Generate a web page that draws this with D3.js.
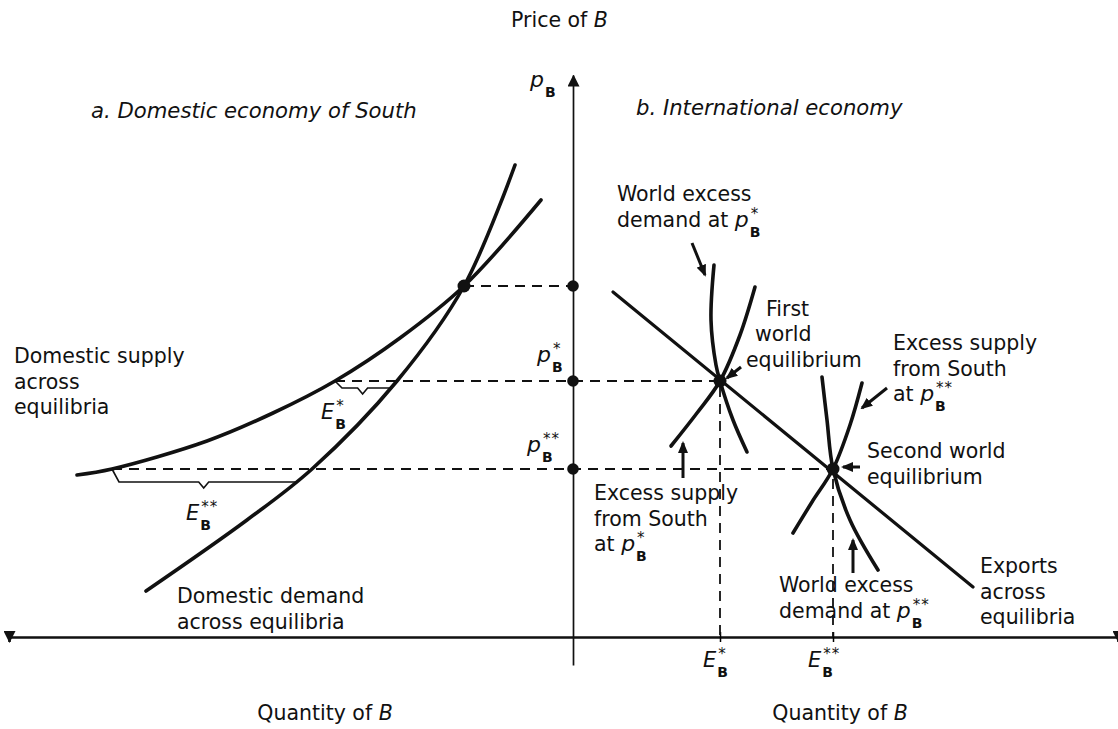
<!DOCTYPE html>
<html>
<head>
<meta charset="utf-8">
<script src="https://cdn.jsdelivr.net/npm/d3@7"></script>
<style>
  body { margin: 0; background: #fff; }
  svg { display: block; }
  text { font-family: "DejaVu Sans", sans-serif; fill: #111; }
</style>
</head>
<body>
<div class="canvas"></div>
<script>
// price levels: top domestic equilibrium, p*, p**
const priceLevels = [35.1, 25.6, 16.8];
// export quantities E*, E**
const exportLevels = [14.7, 26.0];

// panel a: South's domestic curves, [quantity (drawn leftwards), price]
const domesticSupply = [[-49.6, 16.2], [-46.1, 16.8], [-36.6, 19.6], [-30.0, 22.4], [-23.8, 25.6], [-17.3, 29.9], [-10.9, 35.1], [-3.2, 43.7]];
const domesticDemand = [[-42.7, 4.6], [-32.6, 11.7], [-26.1, 16.8], [-17.6, 25.6], [-10.9, 35.1], [-5.8, 47.2]];

// panel b: international economy
const exportsLine = [[4.0, 34.5], [40.0, 5.0]];
const worldDemand1 = [[14.1, 37.2], [13.8, 31.7], [14.3, 27.2], [14.7, 25.6], [16.0, 21.7], [17.4, 18.5]];
const southSupply1 = [[9.8, 19.1], [12.4, 22.4], [14.7, 25.6], [16.7, 30.2], [18.2, 35.0]];
const southSupply2 = [[22.0, 10.4], [23.9, 13.5], [26.0, 16.8], [27.7, 21.2], [28.9, 25.4]];
const worldDemand2 = [[24.9, 26.0], [25.4, 21.7], [26.0, 16.8], [27.7, 11.7], [30.5, 6.7]];

// pointer arrows for the notes, [from, to]
const pointers = [
  [[11.9, 39.4], [13.2, 36.2]],
  [[16.8, 27.0], [15.4, 25.9]],
  [[31.4, 24.9], [28.9, 22.9]],
  [[28.7, 17.0], [27.0, 17.0]],
  [[11.0, 15.9], [11.0, 19.4]],
  [[28.0, 6.4], [28.0, 9.7]]
];

const svg = d3.select('.canvas')
  .append('svg')
    .attr('width', 1118)
    .attr('height', 729);

// 10px per unit, origin where the axes cross
const x = d3.scaleLinear().domain([-57, 55]).range([3, 1123]);
const y = d3.scaleLinear().domain([0, 56]).range([637, 77]);

const defs = svg.append('defs');
defs.append('marker')
    .attr('id', 'axisHead')
    .attr('viewBox', '0 -6 12 12')
    .attr('refX', 11).attr('refY', 0)
    .attr('markerWidth', 12).attr('markerHeight', 12)
    .attr('markerUnits', 'userSpaceOnUse')
    .attr('orient', 'auto-start-reverse')
  .append('path')
    .attr('d', 'M0,-6L12,0L0,6Z')
    .attr('fill', '#111');
defs.append('marker')
    .attr('id', 'pointHead')
    .attr('viewBox', '0 -5 12 10')
    .attr('refX', 10).attr('refY', 0)
    .attr('markerWidth', 12).attr('markerHeight', 10)
    .attr('markerUnits', 'userSpaceOnUse')
    .attr('orient', 'auto')
  .append('path')
    .attr('d', 'M0,-5L12,0L0,5Z')
    .attr('fill', '#111');

// axes
const xAxisScale = x.copy().domain([-56.4, 54.5]).range([x(-56.4), x(54.5)]);
const xAxisGroup = svg.append('g')
  .attr('transform', `translate(0, ${y(0)})`)
  .call(d3.axisBottom(xAxisScale).tickValues(exportLevels).tickFormat('').tickSizeOuter(0).tickSize(5));
xAxisGroup.select('.domain')
  .attr('stroke', '#111')
  .attr('stroke-width', 2.6)
  .attr('marker-start', 'url(#axisHead)')
  .attr('marker-end', 'url(#axisHead)');
xAxisGroup.selectAll('.tick line').attr('y1', -5).attr('y2', 5).attr('stroke-width', 1.5);

const yAxisScale = y.copy().domain([-2.8, 56.2]).range([y(-2.8), y(56.2)]);
const yAxisGroup = svg.append('g')
  .attr('transform', `translate(${x(0)}, 0)`)
  .call(d3.axisLeft(yAxisScale).tickValues([]).tickSizeOuter(0));
yAxisGroup.select('.domain')
  .attr('stroke', '#111')
  .attr('stroke-width', 1.7)
  .attr('marker-end', 'url(#axisHead)');

// quantity on a curve at a given price (linear between samples)
const qAt = (curve, p) => {
  const pts = curve.slice().sort((a, b) => a[1] - b[1]);
  for (let i = 0; i < pts.length - 1; i++) {
    const [q0, p0] = pts[i], [q1, p1] = pts[i + 1];
    if (p >= p0 && p <= p1) return q0 + (q1 - q0) * (p - p0) / (p1 - p0);
  }
  return pts[0][0];
};

// dashed guides
const guide = svg.append('g')
  .attr('fill', 'none')
  .attr('stroke', '#111')
  .attr('stroke-width', 1.8)
  .attr('stroke-dasharray', '10,7');
const guides = [
  [[qAt(domesticSupply, priceLevels[0]), priceLevels[0]], [0, priceLevels[0]]],
  [[qAt(domesticSupply, priceLevels[1]), priceLevels[1]], [exportLevels[0], priceLevels[1]], [exportLevels[0], 0]],
  [[qAt(domesticSupply, priceLevels[2]), priceLevels[2]], [exportLevels[1], priceLevels[2]], [exportLevels[1], 0]]
];
guide.selectAll('path')
  .data(guides)
  .enter()
  .append('path')
    .attr('d', d3.line().x(d => x(d[0])).y(d => y(d[1])));

// curves
const curveLine = d3.line()
  .x(d => x(d[0]))
  .y(d => y(d[1]))
  .curve(d3.curveCatmullRom.alpha(0.5));
svg.append('g')
    .attr('fill', 'none')
    .attr('stroke', '#111')
    .attr('stroke-width', 3.6)
    .attr('stroke-linecap', 'round')
  .selectAll('path')
  .data([domesticSupply, domesticDemand, worldDemand1, southSupply1, southSupply2, worldDemand2])
  .enter()
  .append('path')
    .attr('d', curveLine);

svg.append('path')
  .attr('d', d3.line().x(d => x(d[0])).y(d => y(d[1]))(exportsLine))
  .attr('fill', 'none')
  .attr('stroke', '#111')
  .attr('stroke-width', 3.2)
  .attr('stroke-linecap', 'round');

// braces under the excess-supply gaps
const braceDrop = [7, 13];
[priceLevels[1], priceLevels[2]].forEach((p, i) => {
  const y0 = y(p);
  const yb = y0 + braceDrop[i];
  const xs = x(qAt(domesticSupply, p));
  const xd = x(qAt(domesticDemand, y.invert(yb)));
  const mid = (xs + xd) / 2;
  svg.append('path')
    .attr('d', `M${xs},${y0}L${xs + 7},${yb}L${mid - 5},${yb}L${mid},${yb + 6}L${mid + 5},${yb}L${xd},${yb}`)
    .attr('fill', 'none')
    .attr('stroke', '#111')
    .attr('stroke-width', 1.6);
});

// dots
const dots = priceLevels.map(p => [0, p])
  .concat([[qAt(domesticDemand, priceLevels[0]), priceLevels[0]],
           [exportLevels[0], priceLevels[1]],
           [exportLevels[1], priceLevels[2]]]);
svg.selectAll('circle')
  .data(dots)
  .enter()
  .append('circle')
    .attr('cx', d => x(d[0]))
    .attr('cy', d => y(d[1]))
    .attr('r', (d, i) => i < 3 ? 5.8 : 6.5)
    .attr('fill', '#111');

// pointer arrows
svg.append('g')
    .attr('stroke', '#111')
    .attr('stroke-width', 3)
  .selectAll('line')
  .data(pointers)
  .enter()
  .append('line')
    .attr('x1', d => x(d[0][0]))
    .attr('y1', d => y(d[0][1]))
    .attr('x2', d => x(d[1][0]))
    .attr('y2', d => y(d[1][1]))
    .attr('marker-end', 'url(#pointHead)');

// appends letter, subscript B and stars into one text element
const addSym = (t, letter, stars, size) => {
  t.append('tspan')
    .attr('font-style', 'italic')
    .attr('font-size', size)
    .text(letter);
  const b = t.append('tspan')
    .attr('font-size', 14).attr('font-weight', 'bold')
    .attr('dx', 1)
    .attr('dy', 10)
    .text('B');
  if (stars) {
    const wb = b.node().getComputedTextLength();
    t.append('tspan')
      .attr('font-size', 15).attr('letter-spacing', 1)
      .attr('dx', -wb + 1)
      .attr('dy', -18)
      .text(stars);
  }
};

const sym = (x0, y0, letter, stars, size = 22) => {
  const t = svg.append('text').attr('x', x0).attr('y', y0);
  addSym(t, letter, stars, size);
};

const note = (x0, y0, lines, size = 20.5, lh = 25.5) => {
  lines.forEach((ln, i) => {
    const t = svg.append('text')
      .attr('x', x0).attr('y', y0 + i * lh)
      .attr('font-size', size);
    if (typeof ln === 'string') {
      t.text(ln);
    } else {
      t.append('tspan').text(ln.t + ' ');
      addSym(t, 'p', ln.s, 22);
    }
  });
};

// axis titles
const titled = (x0, y0, anchor, words) => {
  const t = svg.append('text')
    .attr('x', x0).attr('y', y0)
    .attr('font-size', 20.5)
    .attr('text-anchor', anchor);
  t.append('tspan').text(words);
  t.append('tspan').attr('font-style', 'italic').text('B');
};
titled(511, 27, 'start', 'Price of ');
titled(325, 720, 'middle', 'Quantity of ');
titled(840, 720, 'middle', 'Quantity of ');

svg.append('text').attr('x', 91).attr('y', 118).attr('font-size', 21.2).attr('font-style', 'italic')
  .text('a. Domestic economy of South');
svg.append('text').attr('x', 636).attr('y', 115).attr('font-size', 21.2).attr('font-style', 'italic')
  .text('b. International economy');

// axis symbols
sym(530, 87, 'p', '');
sym(537, 362, 'p', '*');
sym(527, 452, 'p', '**');
sym(321, 419, 'E', '*', 21);
sym(186, 520, 'E', '**', 21);
sym(703, 667, 'E', '*', 21);
sym(808, 667, 'E', '**', 21);

// notes
note(14, 363, ['Domestic supply', 'across', 'equilibria']);
note(177, 603, ['Domestic demand', 'across equilibria']);
note(617, 201, ['World excess', {t: 'demand at', s: '*'}]);
note(766, 316, ['First']);
note(755, 341, ['world']);
note(746, 367, ['equilibrium']);
note(893, 350, ['Excess supply', 'from South', {t: 'at', s: '**'}]);
note(867, 458, ['Second world', 'equilibrium']);
note(594, 500, ['Excess supply', 'from South', {t: 'at', s: '*'}]);
note(779, 592, ['World excess', {t: 'demand at', s: '**'}]);
note(980, 573, ['Exports', 'across', 'equilibria']);
</script>
</body>
</html>
